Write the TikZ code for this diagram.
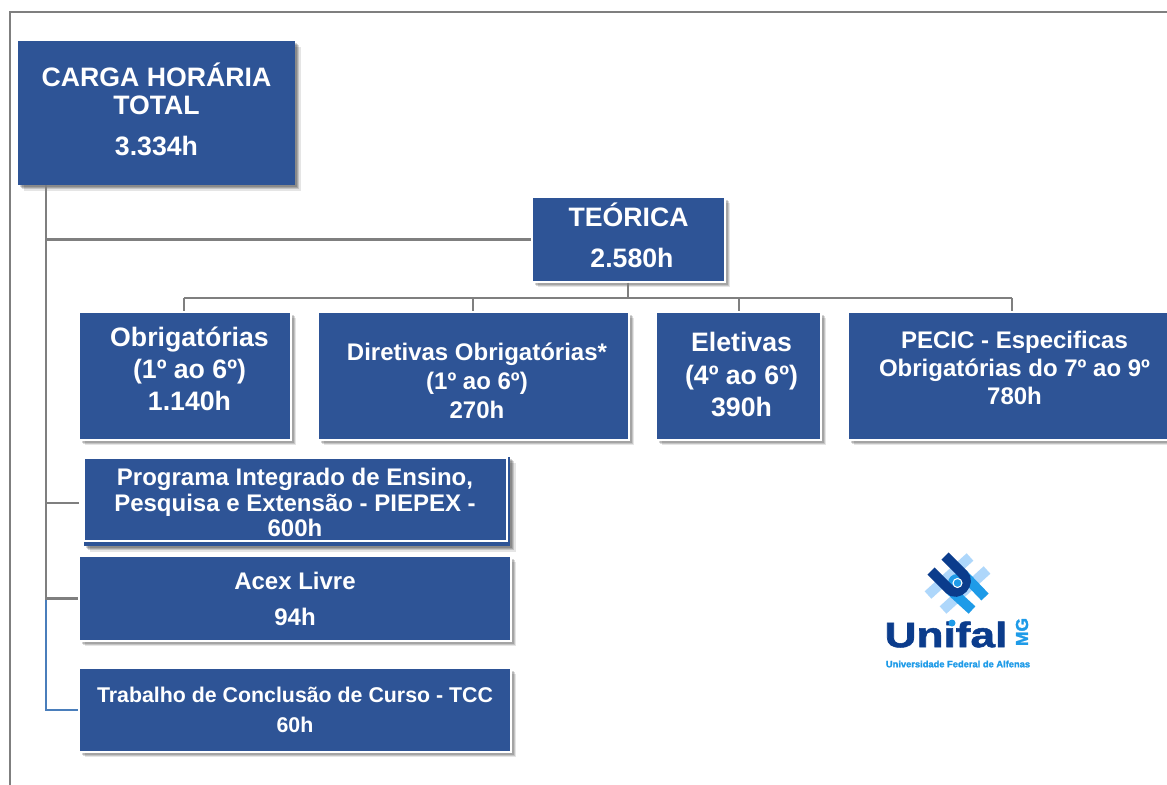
\documentclass[tikz,border=0pt]{standalone}
\usepackage{fontspec}
\setmainfont{Liberation Sans}
\newfontfamily\logofont[FakeBold=1.5]{Liberation Sans Bold}
\usetikzlibrary{shadows}

\definecolor{boxblue}{HTML}{2E5496}
\definecolor{linegray}{HTML}{7F7F7F}
\definecolor{lineblue}{HTML}{4A7EBB}
\definecolor{logodark}{HTML}{0B3C8C}
\definecolor{logomid}{HTML}{1E9BE8}
\definecolor{logolight}{HTML}{AED7FB}

\newcommand{\nudged}[2]{\hspace*{#1}\begin{tabular}{@{}c@{}}#2\end{tabular}}

\tikzset{
	softshadow/.style={
		general shadow={shadow xshift=1.2pt,shadow yshift=-1.2pt,fill=black,opacity=.16},
		general shadow={shadow xshift=2.2pt,shadow yshift=-2.2pt,fill=black,opacity=.16},
		general shadow={shadow xshift=3.2pt,shadow yshift=-3.2pt,fill=black,opacity=.14},
		general shadow={shadow xshift=4.2pt,shadow yshift=-4.2pt,fill=black,opacity=.1}},
	bluebox/.style={softshadow,fill=boxblue,draw=white,line width=1.2pt,inner sep=0pt,
		text=white,align=center},
	big/.style={font=\fontsize{20}{21}\selectfont\bfseries},
	mid/.style={font=\fontsize{18}{19}\selectfont\bfseries},
	small/.style={font=\fontsize{16}{18}\selectfont\bfseries},
	frameline/.style={draw=linegray,line width=1.5pt},
	conn/.style={draw=linegray,line width=2pt},
	drop/.style={draw=linegray,line width=1.5pt}
}

\begin{document}
\begin{tikzpicture}[x=0.75pt,y=-0.75pt]
	\clip (0,0) rectangle (1167,785);
	\fill[white] (0,0) rectangle (1167,785);

	% outer frame
	\coordinate (framebl) at (10,785);
	\coordinate (frametl) at (10,12);
	\coordinate (frametr) at (1167,12);
	\draw[frameline] (framebl) -- (frametl) -- (frametr);

	% boxes
	\node[bluebox,big,draw=none,minimum width=207.75pt,minimum height=108pt] (total) at (156.5,113)
		{CARGA HORÁRIA\\TOTAL\\[9.5pt]3.334h\rule[-6pt]{0pt}{0pt}};
	\node[bluebox,big,minimum width=144.5pt,minimum height=63.5pt] (teorica) at (628.5,239.5)
		{TEÓRICA\\[9.5pt]\hspace*{5.25pt}2.580h\rule[-6pt]{0pt}{0pt}};
	\node[bluebox,big,minimum width=158.7pt,minimum height=95.7pt] (obrig) at (185,376)
		{\nudged{6.75pt}{Obrigatórias\\[2.5pt](1º ao 6º)\\[2.8pt]1.140h\rule[-11pt]{0pt}{0pt}}};
	\node[bluebox,mid,minimum width=233pt,minimum height=95.7pt] (diret) at (473.5,376)
		{\nudged{5.25pt}{\rule{0pt}{26pt}Diretivas Obrigatórias*\\[2.5pt](1º ao 6º)\\[2.5pt]270h}};
	\node[bluebox,big,minimum width=123.5pt,minimum height=95.7pt] (elet) at (738.5,376)
		{\nudged{4.5pt}{\rule{0pt}{18.5pt}Eletivas\\[3.5pt](4º ao 6º)\\[3.5pt]390h}};
	\node[bluebox,mid,minimum width=249.5pt,minimum height=95.7pt] (pecic) at (1014.5,376)
		{PECIC - Especificas\\[2pt]Obrigatórias do 7º ao 9º\\[2pt]780h\rule[-12pt]{0pt}{0pt}};
	\node[softshadow,fill=boxblue,minimum width=319.5pt,minimum height=66.75pt,inner sep=0pt] (piepex) at (297,501.5) {};
	\draw[white,line width=1.2pt] (84.5,458) rectangle (507,541);
	\node[mid,text=white,align=center,inner sep=0pt] (piepextext) at (295,502.5)
		{Programa Integrado de Ensino,\\Pesquisa e Extensão - PIEPEX -\\600h};
	\node[bluebox,mid,minimum width=323.7pt,minimum height=63.5pt] (acex) at (295,598.5)
		{Acex Livre\\[8pt]94h};
	\node[bluebox,small,minimum width=323.7pt,minimum height=62.7pt] (tcc) at (295,710)
		{Trabalho de Conclusão de Curso - TCC\\[4.5pt]60h};

	% connectors
	\coordinate (trunk) at (46,185);
	\coordinate (piepexend) at (79,503);
	\draw[draw=lineblue,line width=2pt] (trunk) |- (tcc.west);
	\draw[conn] (trunk) |- (acex.west);
	\draw[conn] (trunk) |- (teorica.west);
	\draw[conn] (trunk) |- (piepexend);

	\coordinate (bus) at (628,298);
	\draw[conn] (teorica.south -| bus) -- (bus);
	\coordinate (busleft) at (184,298);
	\coordinate (busright) at (1012,298);
	\draw[drop] (busleft) -- (busright);
	\coordinate (obrigtop) at (184,311);
	\coordinate (busdiret) at (473,298);
	\coordinate (direttop) at (473,311);
	\coordinate (buselet) at (739,298);
	\coordinate (elettop) at (739,311);
	\coordinate (pecictop) at (1012,311);
	\draw[drop] (busleft) -- (obrigtop);
	\draw[drop] (busdiret) -- (direttop);
	\draw[drop] (buselet) -- (elettop);
	\draw[drop] (busright) -- (pecictop);

	% logo
	\draw[logolight,line width=7.5pt] (928,595) -- (970,557);
	\draw[logolight,line width=7.5pt] (943,610) -- (987,570);
	\draw[logomid,line width=7.5pt] (963,574) -- (985,597);
	\draw[logomid,line width=7.5pt] (949,589) -- (972,610);
	\fill[logomid] (957,583) circle (9);
	\draw[logodark,line width=7.5pt] (945,556) -- (963,574) .. controls (972,583) and (958,598) .. (949,589) -- (931,571);
	\draw[white,fill=logomid,line width=.8pt] (957.5,583) circle (4.5);
	\node[logodark,inner sep=0pt,font=\fontsize{26.5}{26.5}\logofont] (unifal) at (946,634.5)
		{\scalebox{1.25}[1]{Unifal}};
	\fill[logomid] (952,623) circle (3.5);
	\node[logomid,inner sep=0pt,rotate=90,font=\fontsize{13}{13}\logofont] (mg) at (1022,632) {MG};
	\node[logomid,inner sep=0pt,font=\fontsize{7}{7}\logofont] (unifalname) at (958,664) {Universidade Federal de Alfenas};
\end{tikzpicture}
\end{document}
